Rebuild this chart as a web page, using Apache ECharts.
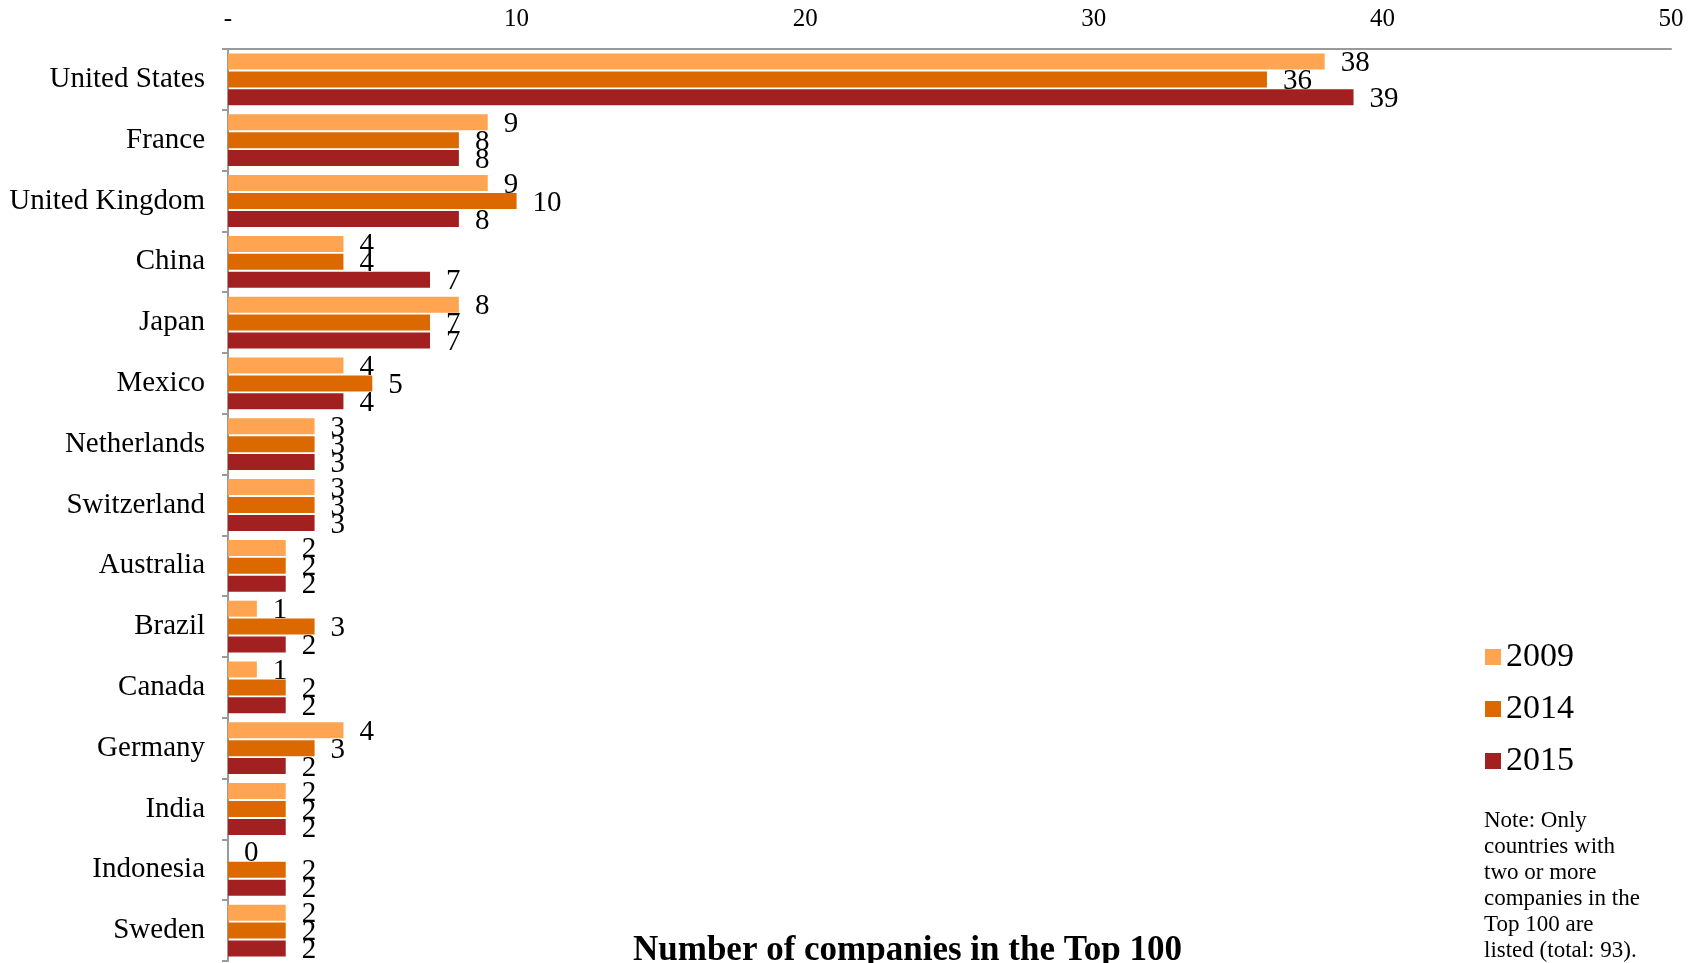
<!DOCTYPE html>
<html>
<head>
<meta charset="utf-8">
<title>Number of companies in the Top 100</title>
<script src="https://cdn.jsdelivr.net/npm/echarts@6/dist/echarts.min.js"></script>
<style>
  html, body { margin: 0; padding: 0; background: #ffffff; }
  #chart { width: 1705px; height: 963px; }
</style>
</head>
<body>
<div id="chart"></div>
<script>
// Countries with two or more companies in the Top 100
const countries = ['United States', 'France', 'United Kingdom', 'China', 'Japan', 'Mexico',
  'Netherlands', 'Switzerland', 'Australia', 'Brazil', 'Canada', 'Germany', 'India',
  'Indonesia', 'Sweden'];

const years = ['2009', '2014', '2015'];

const values2009 = [38, 9, 9, 4, 8, 4, 3, 3, 2, 1, 1, 4, 2, 0, 2];
const values2014 = [36, 8, 10, 4, 7, 5, 3, 3, 2, 3, 2, 3, 2, 2, 2];
const values2015 = [39, 8, 8, 7, 7, 4, 3, 3, 2, 2, 2, 2, 2, 2, 2];

const xTicks = [0, 10, 20, 30, 40, 50];

const noteLines = ['Note: Only', 'countries with', 'two or more', 'companies in the',
  'Top 100 are', 'listed (total: 93).'];

const serif = '"Liberation Serif", "DejaVu Serif", serif';
const colors = ['#FFA552', '#DC6900', '#A32020'];
const seriesValues = [values2009, values2014, values2015];

const chart = echarts.init(document.getElementById('chart'), null, { renderer: 'canvas' });

chart.setOption({
  animation: false,
  backgroundColor: '#ffffff',
  textStyle: { fontFamily: serif },
  grid: { left: 228, right: 34, top: 49, bottom: 2, containLabel: false },
  legend: {
    orient: 'vertical',
    left: 1480,
    top: 635,
    icon: 'rect',
    itemWidth: 16,
    itemHeight: 16,
    itemGap: 18,
    data: years,
    textStyle: { fontFamily: serif, fontSize: 34, color: '#000', lineHeight: 30 }
  },
  xAxis: {
    type: 'value',
    position: 'top',
    min: xTicks[0],
    max: xTicks[xTicks.length - 1],
    interval: xTicks[1] - xTicks[0],
    axisLine: { show: true, lineStyle: { color: '#9a9a9a', width: 2 } },
    axisTick: { show: false },
    splitLine: { show: false },
    axisLabel: {
      margin: 17,
      fontFamily: serif,
      fontSize: 25,
      color: '#000',
      formatter: v => (v === 0 ? '-' : String(v))
    }
  },
  yAxis: {
    type: 'category',
    inverse: true,
    data: countries,
    axisLine: { show: true, lineStyle: { color: '#9a9a9a', width: 2 } },
    axisTick: { show: true, length: 6, lineStyle: { color: '#9a9a9a', width: 2 } },
    axisLabel: { margin: 23, fontFamily: serif, fontSize: 29, color: '#000' }
  },
  series: years.map((y, i) => ({
    name: y,
    type: 'bar',
    data: seriesValues[i],
    barWidth: 16,
    barGap: '12%',
    itemStyle: { color: colors[i] },
    label: {
      show: true,
      position: 'right',
      distance: 16,
      offset: [0, 2],
      fontFamily: serif,
      fontSize: 29,
      color: '#000'
    }
  })),
  graphic: [
    {
      type: 'text',
      left: 1484,
      top: 808,
      style: {
        text: noteLines.join('\n'),
        font: '23px ' + serif,
        lineHeight: 26,
        fill: '#000'
      }
    },
    {
      type: 'text',
      left: 633,
      top: 933,
      style: {
        text: 'Number of companies in the Top 100',
        font: 'bold 35px ' + serif,
        fill: '#000'
      }
    }
  ]
});
</script>
</body>
</html>
